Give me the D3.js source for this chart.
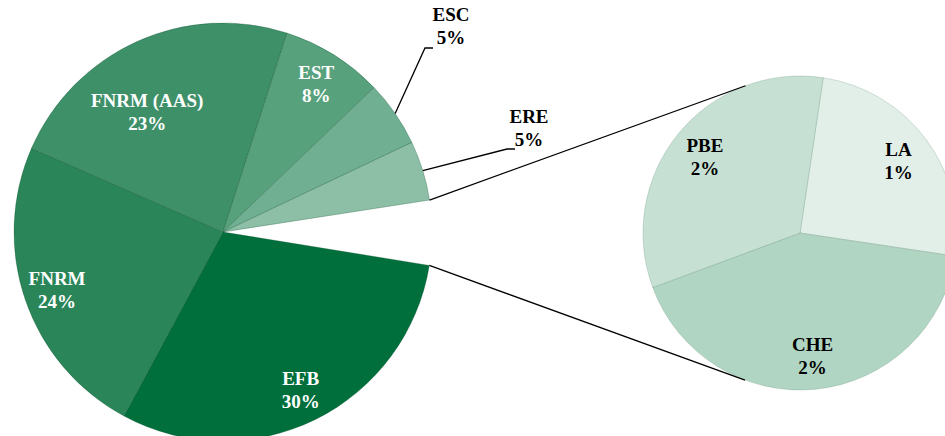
<!DOCTYPE html>
<html>
<head>
<meta charset="utf-8">
<title>Pie of pie</title>
<script src="https://cdn.jsdelivr.net/npm/d3@7"></script>
<style>
	body { margin: 0; background: #fff; }
</style>
</head>
<body>
<svg id="chart" width="945" height="436"></svg>
<script>
// main pie, clockwise from the EFB slice; "Other" is split out into the small pie
var mainLabels = ["EFB", "FNRM", "FNRM (AAS)", "EST", "ESC", "ERE", "Other"];
var mainValues = [30.3, 23.7, 23.4, 7.9, 5.1, 4.6, 5.0];
var mainText   = ["30%", "24%", "23%", "8%", "5%", "5%", ""];
var mainColors = ["#006f3c", "#2a8659", "#3e9069", "#58a17d", "#70af91", "#8cbfa6", "none"];

// secondary pie, clockwise from the top
var subLabels = ["LA", "CHE", "PBE"];
var subValues = [1.25, 2.1, 1.65];
var subText   = ["1%", "2%", "2%"];
var subColors = ["#e2efe8", "#b1d5c3", "#c6e1d3"];

var rad = Math.PI / 180;
var svg = d3.select("#chart");
svg.append("rect").attr("width", 945).attr("height", 436).attr("fill", "#fff");

var cx = 223, cy = 232, R = 209;
var sx = 800, sy = 233, r = 157;

function pt(x, y, rr, a) { return [x + rr * Math.sin(a), y - rr * Math.cos(a)]; }

var mainPie = d3.pie().sort(null).startAngle(99.2 * rad).endAngle(99.2 * rad + 2 * Math.PI);
var mainArcs = mainPie(mainValues);
var arc = d3.arc().innerRadius(0).outerRadius(R);

var gMain = svg.append("g").attr("transform", "translate(" + cx + "," + cy + ")");
gMain.selectAll("path").data(mainArcs.filter(function(d, i) { return mainLabels[i] != "Other"; }))
	.enter().append("path")
	.attr("d", arc)
	.attr("fill", function(d) { return mainColors[d.index]; })
	.attr("stroke", "rgba(0,70,35,0.35)")
	.attr("stroke-width", 0.8);

var subPie = d3.pie().sort(null).startAngle(8.5 * rad).endAngle(8.5 * rad + 2 * Math.PI);
var subArcs = subPie(subValues);
var arc2 = d3.arc().innerRadius(0).outerRadius(r);
var gSub = svg.append("g").attr("transform", "translate(" + sx + "," + sy + ")");
gSub.selectAll("path").data(subArcs).enter().append("path")
	.attr("d", arc2)
	.attr("fill", function(d) { return subColors[d.index]; })
	.attr("stroke", "rgba(60,110,85,0.25)")
	.attr("stroke-width", 0.8);

// connector lines between the two pies
var other = mainArcs[6];
var a1 = pt(cx, cy, R, other.startAngle), b1 = pt(sx, sy, r, -20.3 * rad);
var a2 = pt(cx, cy, R, other.endAngle), b2 = pt(sx, sy, r, 200.5 * rad);
svg.append("path").attr("d", "M" + a1 + "L" + b1 + "M" + a2 + "L" + b2)
	.attr("stroke", "#000").attr("stroke-width", 1.3).attr("fill", "none");

function twoLines(g, x, y, l1, l2, color) {
	var t = g.append("text")
		.attr("text-anchor", "middle")
		.attr("font-family", "'Liberation Serif', 'Times New Roman', Times, serif")
		.attr("font-weight", "bold")
		.attr("font-size", 19)
		.attr("fill", color);
	t.append("tspan").attr("x", x).attr("y", y - 4).text(l1);
	t.append("tspan").attr("x", x).attr("y", y + 19).text(l2);
}

// labels inside the main pie
var labelAt = { "FNRM (AAS)": [143, 328] };
mainArcs.forEach(function(d, i) {
	var name = mainLabels[i];
	if (name == "Other" || name == "ESC" || name == "ERE") return;
	var mid = (d.startAngle + d.endAngle) / 2, rr = 0.84 * R;
	if (labelAt[name]) { rr = labelAt[name][0]; mid = labelAt[name][1] * rad; }
	var p = pt(cx, cy, rr, mid);
	twoLines(svg, p[0], p[1], name, mainText[i], "#fff");
});

// outside labels with leader lines
var outside = { "ESC": { bend: [425, 48], end: [433, 48], at: [451, 25] },
                "ERE": { bend: [507, 149], end: [515, 149], at: [529, 127] } };
mainArcs.forEach(function(d, i) {
	var o = outside[mainLabels[i]];
	if (!o) return;
	var p = pt(cx, cy, R, (d.startAngle + d.endAngle) / 2);
	svg.append("path").attr("d", "M" + p + "L" + o.bend + "L" + o.end)
		.attr("stroke", "#000").attr("stroke-width", 1.3).attr("fill", "none");
	twoLines(svg, o.at[0], o.at[1], mainLabels[i], mainText[i], "#000");
});

// labels in the secondary pie
subArcs.forEach(function(d, i) {
	var p = pt(sx, sy, 0.78 * r, (d.startAngle + d.endAngle) / 2);
	twoLines(svg, p[0], p[1], subLabels[i], subText[i], "#000");
});
</script>
</body>
</html>
